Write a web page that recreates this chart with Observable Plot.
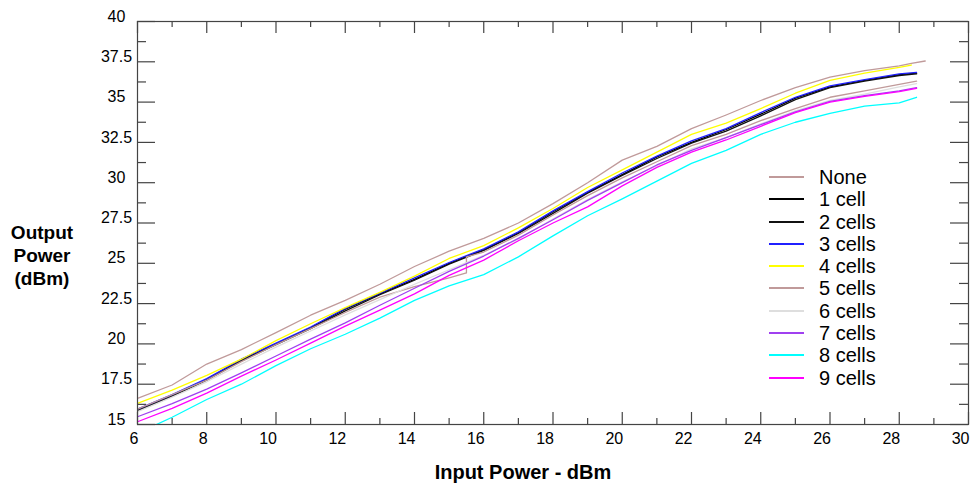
<!DOCTYPE html>
<html><head><meta charset="utf-8">
<script src="https://cdn.jsdelivr.net/npm/d3@7"></script>
<script src="https://cdn.jsdelivr.net/npm/@observablehq/plot@0.6"></script>
<style>
body{margin:0;background:#fff;}
#wrap{position:relative;width:970px;height:485px;font-family:"Liberation Sans",Arial,sans-serif;color:#000;}
#ytitle{position:absolute;left:0;width:84px;top:221px;text-align:center;font-weight:bold;font-size:19px;line-height:23px;}
#xtitle{position:absolute;left:323px;width:400px;top:460px;text-align:center;font-weight:bold;font-size:20px;line-height:24px;}
#legend{position:absolute;left:769px;top:166px;font-size:20px;}
.row{display:flex;align-items:center;height:22.27px;line-height:22px;white-space:nowrap;}
.sw{width:35px;height:2px;margin-right:15px;}
</style></head><body><div id="wrap"></div>
<script>
// ---- data ----
const seriesNames = ["None","1 cell","2 cells","3 cells","4 cells","5 cells","6 cells","7 cells","8 cells","9 cells"];
const seriesColors = ["#c09a9a","#000000","#111111","#2020ff","#ffff00","#c09a9a","#dedede","#a040f0","#00ffff","#ff00ff"];

const inputPower = [6,7,8,9,10,11,12,13,14,15,16,17,18,19,20,21,22,23,24,25,26,27,28,28.5];

const xNone = [6,7,8,9,10,11,12,13,14,15,16,17,18,19,20,21,22,23,24,25,26,27,28,28.35,28.75];
const yNone = [16.62,17.45,18.75,19.65,20.7,21.78,22.7,23.7,24.8,25.75,26.55,27.5,28.7,30.0,31.4,32.25,33.35,34.2,35.1,35.9,36.55,36.95,37.25,37.4,37.55];

const y1cell = [15.9,16.8,17.8,19.0,20.0,21.0,22.15,23.1,24.0,25.0,25.85,26.9,28.2,29.4,30.5,31.6,32.5,33.3,34.25,35.25,35.95,36.35,36.7,36.8];
const y2cells = [15.85,16.75,17.75,18.95,19.95,20.95,22.05,23.05,23.95,24.95,25.8,26.85,28.1,29.35,30.45,31.5,32.45,33.2,34.15,35.15,35.9,36.3,36.65,36.75];
const y3cells = [15.95,16.85,17.85,19.05,20.05,21.05,22.2,23.15,24.1,25.05,25.9,26.95,28.25,29.45,30.6,31.65,32.6,33.35,34.35,35.3,36.0,36.4,36.75,36.85];

const x4cells = [6,7,8,9,10,11,12,13,14,15,16,17,18,19,20,21,22,23,24,25,26,27,28,28.35];
const y4cells = [16.31,17.13,18.05,19.05,20.2,21.25,22.25,23.2,24.2,25.3,26.1,27.2,28.4,29.7,30.8,31.9,33.0,33.7,34.6,35.55,36.35,36.8,37.15,37.3];

const x5cells = [6,7,8,9,10,11,12,13,14,15,15.5,15.5,16,17,18,19,20,21,22,23,24,25,26,27,28,28.5];
const y5cells = [15.95,16.85,17.75,18.9,19.95,20.95,21.95,22.9,23.55,24.1,24.4,25.4,25.7,26.75,28.0,29.2,30.3,31.3,32.3,33.0,33.85,34.6,35.3,35.7,36.1,36.3];

const y6cells = [15.8,16.7,17.65,18.75,19.8,20.8,21.8,22.75,23.7,24.6,25.5,26.5,27.75,28.95,30.05,31.05,32.1,32.8,33.65,34.45,35.1,35.5,35.95,36.15];
const y7cells = [15.48,16.3,17.2,18.2,19.25,20.3,21.3,22.4,23.45,24.5,25.45,26.55,27.7,28.9,30.0,31.1,32.0,32.8,33.6,34.4,35.05,35.4,35.7,35.9];
const y8cells = [14.45,15.45,16.55,17.5,18.65,19.7,20.6,21.6,22.7,23.6,24.3,25.4,26.7,27.95,29.0,30.1,31.2,32.0,33.0,33.75,34.3,34.75,34.95,35.3];
const y9cells = [15.17,16.0,16.95,18.0,19.0,20.05,21.1,22.1,23.1,24.25,25.2,26.4,27.5,28.5,29.8,30.95,31.9,32.65,33.5,34.35,35.0,35.35,35.65,35.85];

const xMajorTicks = [6,8,10,12,14,16,18,20,22,24,26,28,30];
const xMinorTicks = [7,9,11,13,15,17,19,21,23,25,27,29];
const yMajorTicks = [15,17.5,20,22.5,25,27.5,30,32.5,35,37.5,40];
const yMinorTicks = [16.25,18.75,21.25,23.75,26.25,28.75,31.25,33.75,36.25,38.75];

// ---- build table ----
const seriesX = [xNone,inputPower,inputPower,inputPower,x4cells,x5cells,inputPower,inputPower,inputPower,inputPower];
const seriesY = [yNone,y1cell,y2cells,y3cells,y4cells,y5cells,y6cells,y7cells,y8cells,y9cells];
const table = [];
seriesNames.forEach((name, i) => {
  seriesX[i].forEach((x, j) => table.push({series: name, x, y: seriesY[i][j]}));
});

const W = 970, H = 485;
const mL = 137, mR = 2, mT = 21, mB = 61;
const innerW = W - mL - mR, innerH = H - mT - mB;
const tickCol = "#444";

const chart = Plot.plot({
  width: W, height: H,
  marginLeft: mL, marginRight: mR, marginTop: mT, marginBottom: mB,
  style: {fontFamily: "'Liberation Sans', Arial, sans-serif", fontSize: "16px", color: "#000", background: "#fff"},
  x: {domain: [6, 30]},
  y: {domain: [15, 40]},
  color: {domain: seriesNames, range: seriesColors},
  marks: [
    Plot.line(table, {x: "x", y: "y", z: "series", stroke: "series", strokeWidth: 1.3, clip: true}),
    Plot.frame({stroke: tickCol, strokeWidth: 1.2}),
    // bottom ticks
    Plot.tickX(xMajorTicks, {x: d => d, insetTop: innerH - 12, stroke: tickCol, strokeWidth: 1.2}),
    Plot.tickX(xMinorTicks, {x: d => d, insetTop: innerH - 6, stroke: tickCol, strokeWidth: 1.2}),
    // top ticks
    Plot.tickX(xMajorTicks, {x: d => d, insetBottom: innerH - 12, stroke: tickCol, strokeWidth: 1.2}),
    Plot.tickX(xMinorTicks, {x: d => d, insetBottom: innerH - 6, stroke: tickCol, strokeWidth: 1.2}),
    // left ticks
    Plot.tickY(yMajorTicks, {y: d => d, insetRight: innerW - 18, stroke: tickCol, strokeWidth: 1.2}),
    Plot.tickY(yMinorTicks, {y: d => d, insetRight: innerW - 9, stroke: tickCol, strokeWidth: 1.2}),
    // right ticks
    Plot.tickY(yMajorTicks, {y: d => d, insetLeft: innerW - 18, stroke: tickCol, strokeWidth: 1.2}),
    Plot.tickY(yMinorTicks, {y: d => d, insetLeft: innerW - 9, stroke: tickCol, strokeWidth: 1.2}),
    Plot.axisX(xMajorTicks, {anchor: "bottom", tickSize: 0, tickPadding: 8, textAnchor: "end", dx: 1, fontSize: 16, label: null, tickFormat: d => String(d)}),
    Plot.axisY(yMajorTicks, {anchor: "left", tickSize: 0, tickPadding: 21, textAnchor: "middle", dy: -5, fontSize: 16, label: null, tickFormat: d => String(d)})
  ]
});

const wrap = document.getElementById("wrap");
wrap.appendChild(chart);

const yt = document.createElement("div");
yt.id = "ytitle";
yt.innerHTML = "Output<br>Power<br>(dBm)";
wrap.appendChild(yt);

const xt = document.createElement("div");
xt.id = "xtitle";
xt.textContent = "Input Power - dBm";
wrap.appendChild(xt);

const lg = document.createElement("div");
lg.id = "legend";
seriesNames.forEach((name, i) => {
  const row = document.createElement("div");
  row.className = "row";
  const sw = document.createElement("div");
  sw.className = "sw";
  sw.style.background = seriesColors[i];
  const tx = document.createElement("span");
  tx.textContent = name;
  row.appendChild(sw); row.appendChild(tx);
  lg.appendChild(row);
});
wrap.appendChild(lg);
</script>
</body></html>
